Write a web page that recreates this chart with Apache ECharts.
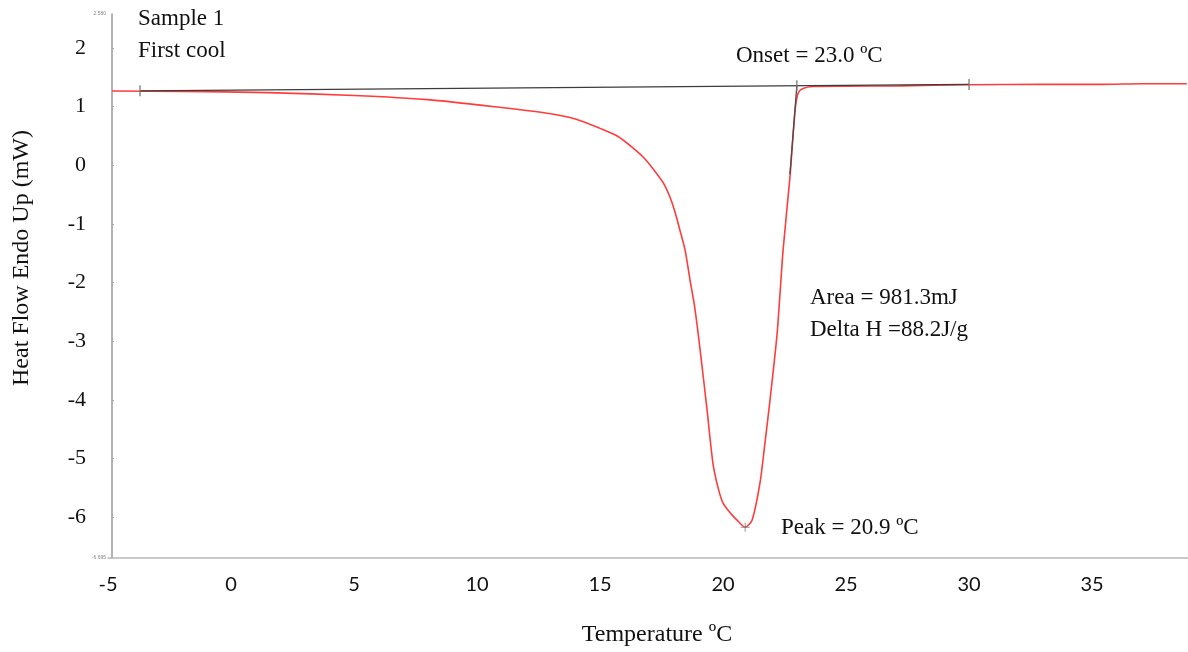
<!DOCTYPE html>
<html>
<head>
<meta charset="utf-8">
<script src="https://cdn.jsdelivr.net/npm/echarts@6/dist/echarts.min.js"></script>
<style>
  html, body { margin: 0; padding: 0; background: #ffffff; }
  #chart { width: 1188px; height: 652px; }
</style>
</head>
<body>
<div id="chart"></div>
<script>
// DSC trace, Sample 1, first cool: temperature (°C) and heat flow (mW)
const temperature = [-4.84, -2.0, 1.5, 5.0, 8.0, 10.9, 13.0, 14.0, 15.0, 15.7, 16.3, 16.8, 17.3, 17.6, 17.85,
  18.05, 18.25, 18.46, 18.66, 18.85, 19.07, 19.35, 19.59, 19.8, 20.0, 20.3, 20.57, 20.9, 21.18, 21.5, 21.7,
  21.91, 22.2, 22.44, 22.72, 22.93, 23.05, 23.25, 23.65, 25.0, 27.2, 30.0, 33.0, 35.3, 37.0, 38.85];
const heatFlow = [1.266, 1.26, 1.24, 1.19, 1.12, 0.99, 0.88, 0.79, 0.63, 0.50, 0.31, 0.12, -0.14, -0.32, -0.55,
  -0.80, -1.11, -1.45, -1.96, -2.42, -3.15, -4.17, -5.08, -5.50, -5.76, -5.93, -6.05, -6.17, -6.05, -5.42, -4.75,
  -4.00, -2.86, -1.45, -0.20, 0.94, 1.23, 1.31, 1.345, 1.35, 1.355, 1.375, 1.38, 1.38, 1.39, 1.392];

// integration baseline and onset tangent
const baselineTemp = [-3.7, 23.0, 30.0];
const baselineFlow = [1.27, 1.357, 1.38];
const tangentTemp = [23.0, 22.72];
const tangentFlow = [1.357, -0.15];

// peak result
const peakTemp = 20.9;
const peakFlow = -6.17;

// axes
const xTickValues = [-5, 0, 5, 10, 15, 20, 25, 30, 35];
const yTickValues = [-6, -5, -4, -3, -2, -1, 0, 1, 2];
const xRange = [-5, 38.9];
const yRange = [-6.695, 2.58];

// annotation texts
const sampleLines = ['Sample 1', 'First cool'];
const onsetText = 'Onset = 23.0 ºC';
const areaLines = ['Area = 981.3mJ', 'Delta H =88.2J/g'];
const peakText = 'Peak = 20.9 ºC';
const xTitle = 'Temperature ºC';
const yTitle = 'Heat Flow Endo Up (mW)';

const curve = temperature.map((t, i) => [t, heatFlow[i]]);
const baseline = [[baselineTemp[0], baselineFlow[0]], [baselineTemp[2], baselineFlow[2]]];
const tangent = tangentTemp.map((t, i) => [t, tangentFlow[i]]);
const baselineMarks = baselineTemp.map((t, i) => [t, baselineFlow[i]]);

const serif = '"Liberation Serif", "Times New Roman", serif';
const isTick = (v, list) => list.some(t => Math.abs(t - v) < 1e-6);

const chart = echarts.init(document.getElementById('chart'), null, { renderer: 'canvas' });

chart.setOption({
  backgroundColor: '#ffffff',
  animation: false,
  grid: { left: 108, right: 0, top: 14, bottom: 94, containLabel: false, outerBoundsMode: 'none' },
  xAxis: {
    type: 'value',
    min: xRange[0],
    max: xRange[1],
    axisLine: { show: true, onZero: false, lineStyle: { color: '#b8b8b8', width: 1.5 } },
    axisTick: { show: false },
    splitLine: { show: false },
    axisLabel: {
      margin: 17,
      color: '#111',
      fontFamily: 'Lato, "Open Sans", sans-serif',
      fontSize: 20,
      customValues: xTickValues,
      formatter: v => String(Math.round(v))
    }
  },
  yAxis: {
    type: 'value',
    min: yRange[0],
    max: yRange[1],
    offset: -4,
    axisLine: { show: true, onZero: false, lineStyle: { color: '#9a9a9a', width: 1.5 } },
    axisTick: { show: true, length: 2, inside: true, customValues: yTickValues, lineStyle: { color: '#aaa' } },
    splitLine: { show: false },
    axisLabel: {
      margin: 6,
      customValues: yRange.concat(yTickValues),
      formatter: v => isTick(v, yTickValues) ? '{n|' + Math.round(v) + '}' : '{s|' + v.toFixed(3) + '}',
      rich: {
        n: { fontFamily: serif, fontSize: 22, color: '#111', padding: [0, 20, 0, 0] },
        s: { fontFamily: 'Arial, sans-serif', fontSize: 5, color: '#888' }
      }
    }
  },
  series: [
    {
      name: 'Heat flow',
      type: 'line',
      data: curve,
      smooth: 0.25,
      showSymbol: false,
      lineStyle: { color: '#ff3c3c', width: 1.6 },
      z: 2
    },
    {
      name: 'Baseline',
      type: 'line',
      data: baseline,
      showSymbol: false,
      lineStyle: { color: '#3c3c3c', width: 1.4 },
      z: 3
    },
    {
      name: 'Onset tangent',
      type: 'line',
      data: tangent,
      showSymbol: false,
      lineStyle: { color: '#4a4a4a', width: 1.3 },
      z: 3
    },
    {
      name: 'Baseline limits',
      type: 'scatter',
      data: baselineMarks,
      symbol: 'rect',
      symbolSize: [1.6, 11],
      itemStyle: { color: '#777' },
      z: 4
    },
    {
      name: 'Peak',
      type: 'scatter',
      data: [[peakTemp, peakFlow]],
      symbol: 'path://M4,0h1v9h-1z M0,4h9v1h-9z',
      symbolSize: 9,
      itemStyle: { color: '#777' },
      z: 4
    }
  ],
  graphic: [
    { type: 'text', left: 138, top: 7, style: { text: sampleLines[0], font: '23px ' + serif, fill: '#111' } },
    { type: 'text', left: 138, top: 39, style: { text: sampleLines[1], font: '23px ' + serif, fill: '#111' } },
    { type: 'text', left: 736, top: 44, style: { text: onsetText, font: '23px ' + serif, fill: '#111' } },
    { type: 'text', left: 810, top: 286, style: { text: areaLines[0], font: '23px ' + serif, fill: '#111' } },
    { type: 'text', left: 810, top: 318, style: { text: areaLines[1], font: '23px ' + serif, fill: '#111' } },
    { type: 'text', left: 781, top: 516, style: { text: peakText, font: '23px ' + serif, fill: '#111' } },
    {
      type: 'text', x: 657, y: 635,
      style: { text: xTitle, font: '24px ' + serif, fill: '#111', textAlign: 'center', textVerticalAlign: 'middle' }
    },
    {
      type: 'text', x: 22, y: 258, rotation: Math.PI / 2,
      style: { text: yTitle, font: '24px ' + serif, fill: '#111', textAlign: 'center', textVerticalAlign: 'middle' }
    }
  ]
});
</script>
</body>
</html>
